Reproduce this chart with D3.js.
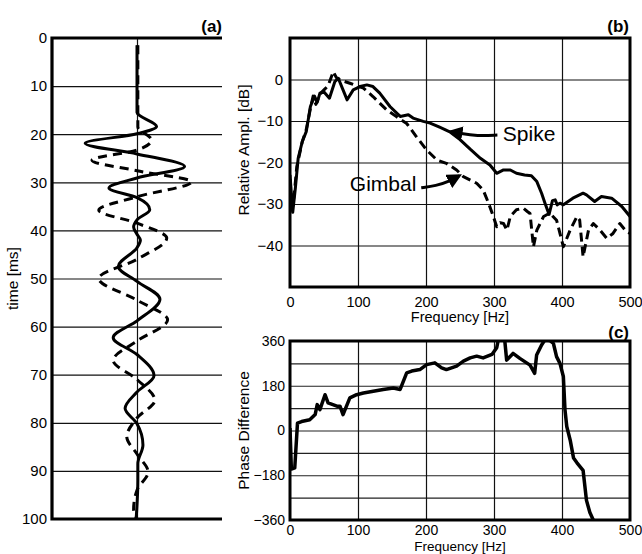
<!DOCTYPE html>
<html><head><meta charset="utf-8">
<script src="https://cdn.jsdelivr.net/npm/d3@7"></script>
<style>
body{margin:0;background:#fff;}
svg{display:block;font-family:"Liberation Sans",Arial,Helvetica,sans-serif;}
</style></head><body><svg id="c" width="642" height="554"></svg>
<script>
// ---------- Panel (a): waveforms ----------
const timeTicks = [0,10,20,30,40,50,60,70,80,90,100];
const spikeT = [1.5,15.5,18.4,19.9,21.9,24.1,26.7,29.1,31.2,33.2,35.7,37.8,39.3,40.8,42.0,43.6,47.5,50.6,54.3,58.8,62.3,65.8,70.2,73.6,77.0,80.2,84.6,88.5,92,100];
const spikeA = [0,0,0.23,0,-0.61,0,0.56,0,-0.33,0,0.15,0,-0.04,0,0.04,0,-0.22,0,0.27,0,-0.28,0,0.2,0,-0.14,0,0.07,0.01,0.01,-0.01];
const gimbalT = [1.5,18.5,21.2,23.3,25.4,27.6,29.9,33,35.8,38.5,41.6,46,50,54.5,58.6,63,67,71,75.3,79,82.9,86.5,90.2,94,98,100];
const gimbalA = [0.01,0.01,0.17,0,-0.53,0,0.64,0,-0.45,0,0.35,0,-0.45,0,0.36,0,-0.28,0,0.21,0,-0.12,0,0.13,0,-0.04,0];

// ---------- Panel (b): amplitude spectra ----------
const freqTicks = [0,100,200,300,400,500];
const dbTicks = [0,-10,-20,-30,-40];
const spikeF = [0,4,8,12,18,24,30,36,40,44,50,58,66,71,78,84,93,103,113,122,132,147,162,174,181,196,206,220,235,250,265,280,294,304,314,324,333,345,355,363,370,375,381,386,390,393,397,402,416,431,436,448,458,473,488,500];
const spikeDb = [-23,-32,-26,-19,-15,-12.5,-6.5,-4,-5.5,-3.3,-3,-4.5,-0.5,0.3,-2.5,-4.9,-2.5,-1.7,-1.3,-1.7,-3.3,-6.5,-8.9,-8.5,-9.3,-10.1,-10.5,-11.5,-12.6,-14.5,-16.8,-19,-20.6,-22.6,-21.8,-21.8,-22.6,-23,-23.2,-24.6,-27.4,-29.8,-32.5,-29.2,-29.0,-30.2,-29.8,-30.2,-28.6,-27.4,-27.8,-29.4,-28.2,-28.6,-30.6,-33];
const gimbalF = [0,3,6,10,18,24,30,34,38,44,50,56,63.7,68,73.5,88,108,122,142,157,171.6,186,201,216,230,245,255,274.5,284,292,299,304,309,314,319,324,333,343,349,353,358,363,373,382,392,402,412,422,426,431,439,446,456,466,475,485,493,500];
const gimbalDb = [-24,-31.5,-28,-21,-15,-12,-7,-4,-6,-3.5,-2.5,-1.5,1.9,0.5,-0.1,-0.9,-2.1,-4.1,-7.3,-9,-10.6,-13.8,-17,-19.4,-20.2,-21.8,-23.4,-25,-26.6,-29.8,-33,-35.5,-34.5,-34.7,-36.3,-33,-31.4,-31,-31.8,-32.3,-40.3,-36.3,-33,-32.2,-33.9,-40.3,-36.3,-33,-33.9,-42.7,-36.3,-34.7,-36.3,-38.3,-37.1,-34.7,-36.3,-37.1];

// ---------- Panel (c): phase difference ----------
const phaseTicks = [360,180,0,-180,-360];
const phaseGrid = [270,180,90,0,-90,-180,-270];
const phaseF = [0,2,7,11,17,29,37,40,44,51.5,56,69,73.5,78,88,98,108,122.5,137,152,162,171.6,179,191,201,213,223,230,245,255,265,274.5,284,297,304,306,312,316,318.6,328,338,353,359.8,362.7,370,375,382,387.4,392,397,402,404.4,407,412,417,422,431,436,441,446];
const phaseD = [10,-155,-150,30,36,43,64,104,84,144,111,98,98,64,131,144,151,158,165,171,165,232,239,245,265,272,252,245,259,279,292,299,292,306,333,360,400,357,283,310,290,263,230,304,344,365,362,350,297,270,217,83,16,-38,-111,-130,-160,-281,-330,-360];

const svg = d3.select("#c");
const line = (x,y,curve) => d3.line().x(d=>x(d[0])).y(d=>y(d[1])).curve(curve||d3.curveLinear);

// ===== Panel (a) =====
const A = {l:52, r:222, t:38, b:519};
const yA = d3.scaleLinear().domain([0,100]).range([A.t, A.b]);
const xA = d3.scaleLinear().domain([-1,1]).range([A.l, A.r]);
const gA = svg.append("g");
gA.append("g").attr("transform",`translate(${A.l},0)`)
  .call(d3.axisLeft(yA).tickValues(timeTicks.slice(1,-1)).tickSize(-(A.r-A.l)).tickFormat(""))
  .call(g=>{g.select(".domain").remove(); g.selectAll("line").attr("stroke","#111").attr("stroke-width",1.2);});
gA.append("g").attr("transform",`translate(0,${A.t})`)
  .call(d3.axisBottom(xA).tickValues([0]).tickSize(A.b-A.t).tickFormat(""))
  .call(g=>{g.select(".domain").remove(); g.selectAll("line").attr("stroke","#111").attr("stroke-width",1.2);});
gA.append("g").attr("transform",`translate(${A.l},0)`)
  .call(d3.axisLeft(yA).tickValues(timeTicks).tickSize(0).tickPadding(5))
  .call(g=>{g.select(".domain").remove(); g.selectAll("text").attr("font-size",15).attr("font-family","Liberation Sans, Arial").attr("fill","#000");});
// frame: top, left, bottom
gA.append("path").attr("d",`M${xA(1)},${yA(0)}H${xA(-1)}V${yA(100)}H${xA(1)}`).attr("fill","none").attr("stroke","#000").attr("stroke-width",3.2);
gA.append("path").datum(d3.zip(gimbalA,gimbalT)).attr("d",line(xA,yA,d3.curveMonotoneY)).attr("fill","none").attr("stroke","#000").attr("stroke-width",3).attr("stroke-dasharray","9,6");
gA.append("path").datum(d3.zip(spikeA,spikeT)).attr("d",line(xA,yA,d3.curveMonotoneY)).attr("fill","none").attr("stroke","#000").attr("stroke-width",3);
gA.append("text").attr("transform",`translate(18,${(A.t+A.b)/2}) rotate(-90)`).attr("text-anchor","middle").attr("font-size",15.5).text("time [ms]");
gA.append("text").attr("x",A.r).attr("y",32).attr("text-anchor","end").attr("font-size",17).attr("font-weight","bold").text("(a)");

// ===== Panel (b) =====
const B = {l:290, r:630, t:38, b:287};
const xB = d3.scaleLinear().domain([0,500]).range([B.l, B.r]);
const yB = d3.scaleLinear().domain([-50,10]).range([B.b, B.t]);
const gB = svg.append("g");
svg.append("defs").html(`<clipPath id="clipB"><rect x="${B.l}" y="${B.t}" width="${B.r-B.l}" height="${B.b-B.t}"/></clipPath>
<clipPath id="clipC"><rect x="290" y="341" width="340" height="179"/></clipPath>
<marker id="ah" viewBox="0 0 10 10" refX="8" refY="5" markerWidth="5" markerHeight="5" orient="auto-start-reverse"><path d="M0,0L10,5L0,10z" fill="#000"/></marker>`);
gB.append("g").attr("transform",`translate(${B.l},0)`)
  .call(d3.axisLeft(yB).tickValues(dbTicks).tickSize(-(B.r-B.l)).tickFormat(""))
  .call(g=>{g.select(".domain").remove(); g.selectAll("line").attr("stroke","#111").attr("stroke-width",1.2);});
gB.append("g").attr("transform",`translate(0,${B.t})`)
  .call(d3.axisBottom(xB).tickValues(freqTicks.slice(1,-1)).tickSize(B.b-B.t).tickFormat(""))
  .call(g=>{g.select(".domain").remove(); g.selectAll("line").attr("stroke","#111").attr("stroke-width",1.2);});
gB.append("g").attr("transform",`translate(${B.l},0)`)
  .call(d3.axisLeft(yB).tickValues(dbTicks).tickSize(0).tickPadding(7))
  .call(g=>{g.select(".domain").remove(); g.selectAll("text").attr("font-size",15).attr("font-family","Liberation Sans, Arial").attr("fill","#000");});
gB.append("g").attr("transform",`translate(0,${B.b})`)
  .call(d3.axisBottom(xB).tickValues(freqTicks).tickSize(0).tickPadding(10))
  .call(g=>{g.select(".domain").remove(); g.selectAll("text").attr("font-size",14.5).attr("font-family","Liberation Sans, Arial").attr("fill","#000");});
const cB = gB.append("g").attr("clip-path","url(#clipB)");
cB.append("path").datum(d3.zip(gimbalF,gimbalDb)).attr("d",line(xB,yB)).attr("fill","none").attr("stroke","#000").attr("stroke-width",3).attr("stroke-dasharray","9,5").attr("stroke-linejoin","round");
cB.append("path").datum(d3.zip(spikeF,spikeDb)).attr("d",line(xB,yB)).attr("fill","none").attr("stroke","#000").attr("stroke-width",3).attr("stroke-linejoin","round");
gB.append("rect").attr("x",B.l).attr("y",B.t).attr("width",B.r-B.l).attr("height",B.b-B.t).attr("fill","none").attr("stroke","#000").attr("stroke-width",3);
gB.append("text").attr("transform",`translate(249,150) rotate(-90)`).attr("text-anchor","middle").attr("font-size",15.5).text("Relative Ampl. [dB]");
gB.append("text").attr("x",(B.l+B.r)/2).attr("y",322).attr("text-anchor","middle").attr("font-size",14.5).text("Frequency [Hz]");
gB.append("text").attr("x",629).attr("y",32).attr("text-anchor","end").attr("font-size",17).attr("font-weight","bold").text("(b)");
// annotations
const spikeArrow = [[305,-13.4],[275,-13.6],[250,-13.0],[236,-12.6]];
const gimbalArrow = [[193,-26.1],[215,-25.6],[233,-24.6],[249,-23.2]];
gB.append("path").datum(spikeArrow).attr("d",line(xB,yB,d3.curveBasis)).attr("fill","none").attr("stroke","#000").attr("stroke-width",3).attr("marker-end","url(#ah)");
gB.append("path").datum(gimbalArrow).attr("d",line(xB,yB,d3.curveBasis)).attr("fill","none").attr("stroke","#000").attr("stroke-width",3).attr("marker-end","url(#ah)");
gB.append("text").attr("x",xB(313)).attr("y",yB(-14.8)).attr("font-size",21).text("Spike");
gB.append("text").attr("x",xB(88)).attr("y",yB(-26.9)).attr("font-size",21).text("Gimbal");

// ===== Panel (c) =====
const C = {l:290, r:630, t:341, b:520};
const xC = d3.scaleLinear().domain([0,500]).range([C.l, C.r]);
const yC = d3.scaleLinear().domain([-360,360]).range([C.b, C.t]);
const gC = svg.append("g");
gC.append("g").attr("transform",`translate(${C.l},0)`)
  .call(d3.axisLeft(yC).tickValues(phaseGrid).tickSize(-(C.r-C.l)).tickFormat(""))
  .call(g=>{g.select(".domain").remove(); g.selectAll("line").attr("stroke","#222").attr("stroke-width",1.2);});
gC.append("g").attr("transform",`translate(0,${C.t})`)
  .call(d3.axisBottom(xC).tickValues(freqTicks.slice(1,-1)).tickSize(C.b-C.t).tickFormat(""))
  .call(g=>{g.select(".domain").remove(); g.selectAll("line").attr("stroke","#111").attr("stroke-width",1.2);});
gC.append("g").attr("transform",`translate(${C.l},0)`)
  .call(d3.axisLeft(yC).tickValues(phaseTicks).tickSize(0).tickPadding(5))
  .call(g=>{g.select(".domain").remove(); g.selectAll("text").attr("font-size",14).attr("font-family","Liberation Sans, Arial").attr("fill","#000");});
gC.append("g").attr("transform",`translate(0,${C.b})`)
  .call(d3.axisBottom(xC).tickValues(freqTicks).tickSize(0).tickPadding(5))
  .call(g=>{g.select(".domain").remove(); g.selectAll("text").attr("font-size",14).attr("font-family","Liberation Sans, Arial").attr("fill","#000");});
gC.append("g").attr("clip-path","url(#clipC)").append("path").datum(d3.zip(phaseF,phaseD)).attr("d",line(xC,yC)).attr("fill","none").attr("stroke","#000").attr("stroke-width",3.5).attr("stroke-linejoin","round");
gC.append("rect").attr("x",C.l).attr("y",C.t).attr("width",C.r-C.l).attr("height",C.b-C.t).attr("fill","none").attr("stroke","#000").attr("stroke-width",3);
gC.append("text").attr("transform",`translate(249,${(C.t+C.b)/2}) rotate(-90)`).attr("text-anchor","middle").attr("font-size",15.5).text("Phase Difference");
gC.append("text").attr("x",(C.l+C.r)/2).attr("y",551).attr("text-anchor","middle").attr("font-size",13.5).text("Frequency [Hz]");
gC.append("text").attr("x",629).attr("y",338).attr("text-anchor","end").attr("font-size",17).attr("font-weight","bold").text("(c)");
</script></body></html>
